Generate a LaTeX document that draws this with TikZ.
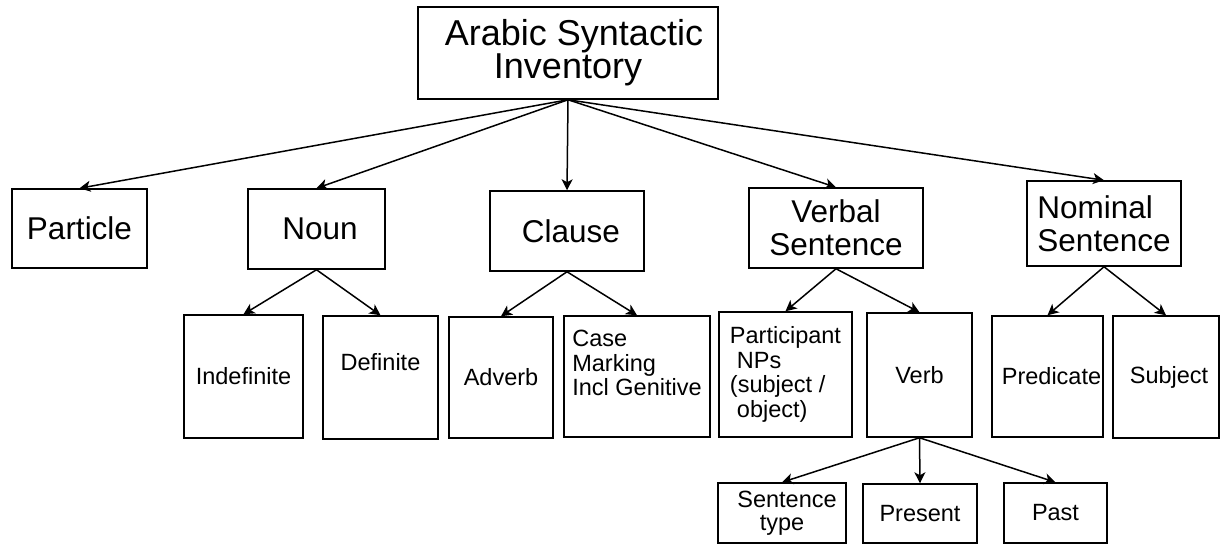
\documentclass[tikz,border=0pt]{standalone}
\usepackage{fontspec}
\setmainfont{Liberation Sans}
\usetikzlibrary{arrows.meta}
\tikzset{
  box/.style={draw, line width=1.5pt, inner sep=0pt, align=center, text=black},
  big/.style={font=\fontsize{36}{30}\selectfont},
  mid/.style={font=\fontsize{31.5}{33}\selectfont},
  small/.style={font=\fontsize{23.5}{24.5}\selectfont},
  conn/.style={line width=1.5pt, -{Stealth[length=11pt,width=11pt,inset=3pt]}},
}
\begin{document}
\begin{tikzpicture}[x=1pt,y=-1pt]
\useasboundingbox (0,0) rectangle (1222,544);
% level 0
\node[box,big,minimum width=300pt,minimum height=92pt] (root) at (568,53) {\hspace*{12pt}Arabic Syntactic\\Inventory};
% level 1
\node[box,mid,minimum width=135pt,minimum height=79pt] (particle) at (79.5,228.5) {Particle};
\node[box,mid,minimum width=137pt,minimum height=80pt] (noun) at (316.5,229) {\hspace*{7pt}Noun};
\node[box,mid,minimum width=154pt,minimum height=80pt] (clause) at (567,231) {\hspace*{8pt}Clause};
\node[box,mid,minimum width=174pt,minimum height=80pt] (verbal) at (836,228) {Verbal\\Sentence};
\node[box,mid,minimum width=154pt,minimum height=85pt,align=left] (nominal) at (1104,223.5) {Nominal\\Sentence};
% level 2
\node[box,small,minimum width=119pt,minimum height=123pt] (indef) at (243.5,376.5) {Indefinite};
\node[box,small,minimum width=115pt,minimum height=123pt] (def) at (380.5,377.5) {Definite\\[6pt]};
\node[box,small,minimum width=104pt,minimum height=121pt] (adverb) at (501,377.5) {Adverb};
\node[box,small,minimum width=146pt,minimum height=121pt,align=left] (case) at (637,376.5) {Case\\Marking\\Incl Genitive\\[2pt]};
\node[box,small,minimum width=133pt,minimum height=125pt,align=left] (partic) at (785.5,374.5) {Participant\\\hspace*{7pt}NPs\\(subject /\\\hspace*{7pt}object)};
\node[box,small,minimum width=105pt,minimum height=124pt] (verb) at (919.5,375) {Verb};
\node[box,small,minimum width=111pt,minimum height=121pt] (pred) at (1047.5,376.5) {\hspace*{8pt}Predicate};
\node[box,small,minimum width=106pt,minimum height=122pt] (subj) at (1166,377) {\hspace*{6pt}Subject};
% level 3
\node[box,small,minimum width=128pt,minimum height=60pt,font=\fontsize{23.5}{23}\selectfont] (stype) at (782,513) {\hspace*{10pt}Sentence\\type};
\node[box,small,minimum width=114pt,minimum height=59pt] (present) at (920,513.5) {Present};
\node[box,small,minimum width=103pt,minimum height=60pt] (past) at (1055.5,513) {Past};
% connectors
\foreach \c in {particle,noun,clause,verbal,nominal}
  \draw[conn] (root.south) -- (\c.north);
\draw[conn] (noun.south) -- (indef.north);
\draw[conn] (noun.south) -- (def.north);
\draw[conn] (clause.south) -- (adverb.north);
\draw[conn] (clause.south) -- (case.north);
\draw[conn] (verbal.south) -- (partic.north);
\draw[conn] (verbal.south) -- (verb.north);
\draw[conn] (nominal.south) -- (pred.north);
\draw[conn] (nominal.south) -- (subj.north);
\draw[conn] (verb.south) -- (stype.north);
\draw[conn] (verb.south) -- (present.north);
\draw[conn] (verb.south) -- (past.north);
\end{tikzpicture}
\end{document}
